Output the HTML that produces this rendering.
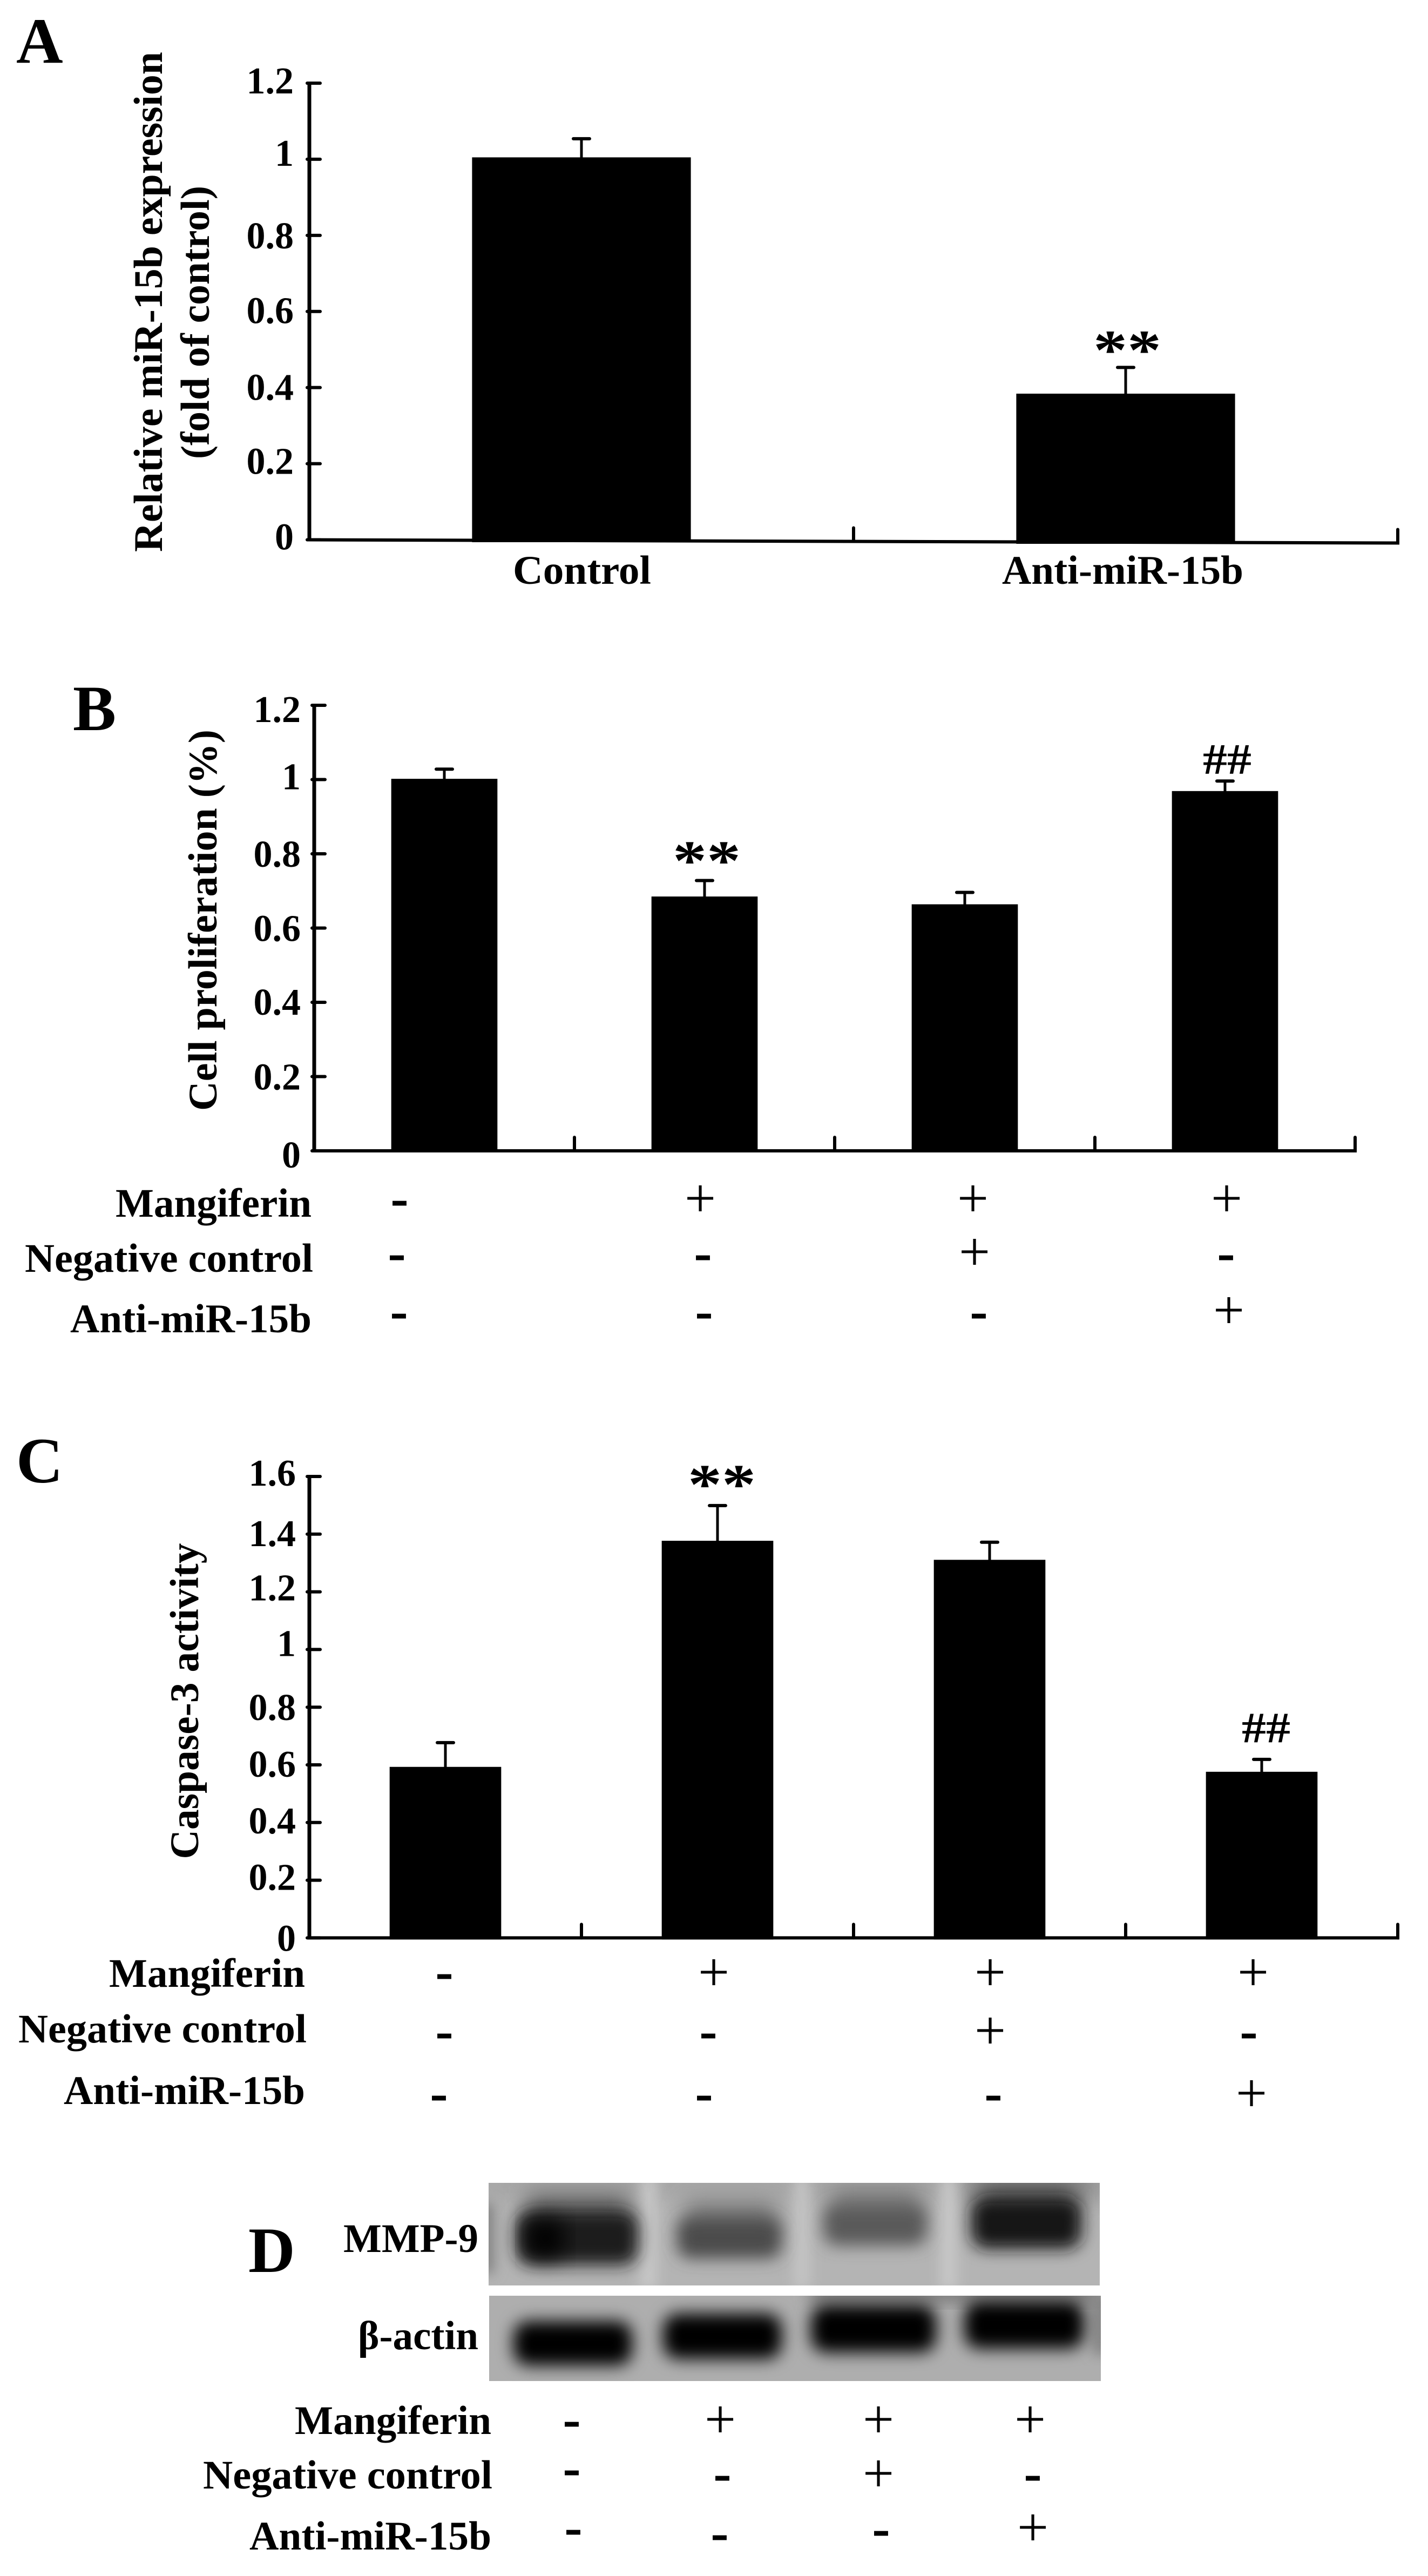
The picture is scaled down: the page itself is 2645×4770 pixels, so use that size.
<!DOCTYPE html>
<html lang="en">
<head>
<meta charset="utf-8">
<title>miR-15b mangiferin figure panels</title>
<style>
html,body{margin:0;padding:0;background:#fff;}
#figure{position:absolute;left:0;top:0;display:block;background:#fff;}
text{font-family:"Liberation Serif","DejaVu Serif",serif;fill:#000;}
.letter{font-weight:700;font-size:120px;}
.row{font-weight:700;font-size:75px;text-anchor:end;}
.title{font-weight:700;font-size:75px;text-anchor:middle;}
.plus{font-size:103px;text-anchor:middle;}
.minus{font-size:92px;text-anchor:middle;stroke:#000;stroke-width:2px;}
</style>
</head>
<body>
<svg id="figure" xmlns="http://www.w3.org/2000/svg" width="2645" height="4770" viewBox="0 0 2645 4770">
  <defs>
    <filter id="blur-band" x="-30%" y="-60%" width="160%" height="220%"><feGaussianBlur stdDeviation="15"/></filter>
    <filter id="blur-smear" x="-30%" y="-80%" width="160%" height="260%"><feGaussianBlur stdDeviation="20"/></filter>
    <filter id="blur-gap" x="-200%" y="-20%" width="500%" height="140%"><feGaussianBlur stdDeviation="12"/></filter>
    <clipPath id="clip-mmp"><rect x="905" y="4042" width="1132" height="190"/></clipPath>
    <clipPath id="clip-actin"><rect x="906" y="4251" width="1133" height="158"/></clipPath>
  </defs>

  <g id="plots"></g>

  <!-- panel letters -->
  <text class="letter" x="30" y="116">A</text>
  <text class="letter" x="135" y="1352">B</text>
  <text class="letter" x="30" y="2745">C</text>
  <text class="letter" x="460" y="4207">D</text>

  <!-- axis titles -->
  <text class="title" transform="translate(300,559) rotate(-90)" textLength="926" lengthAdjust="spacingAndGlyphs">Relative miR-15b expression</text>
  <text class="title" transform="translate(387,597) rotate(-90)" textLength="506" lengthAdjust="spacingAndGlyphs">(fold of control)</text>
  <text class="title" transform="translate(401,1704) rotate(-90)" textLength="706" lengthAdjust="spacingAndGlyphs">Cell proliferation (%)</text>
  <text class="title" transform="translate(367,3150) rotate(-90)" textLength="585" lengthAdjust="spacingAndGlyphs">Caspase-3 activity</text>

  <!-- panel A category labels -->
  <text class="row" x="1206" y="1081" textLength="256" lengthAdjust="spacingAndGlyphs">Control</text>
  <text class="row" x="2303" y="1081" textLength="447" lengthAdjust="spacingAndGlyphs">Anti-miR-15b</text>

  <!-- panel B treatment table -->
  <g>
    <text class="row" x="577" y="2253" textLength="363" lengthAdjust="spacingAndGlyphs">Mangiferin</text>
    <text class="row" x="580" y="2355" textLength="534" lengthAdjust="spacingAndGlyphs">Negative control</text>
    <text class="row" x="577" y="2467" textLength="447" lengthAdjust="spacingAndGlyphs">Anti-miR-15b</text>
    <text class="minus" x="740" y="2250">-</text>
    <text class="plus" x="1297" y="2253">+</text>
    <text class="plus" x="1802" y="2253">+</text>
    <text class="plus" x="2272" y="2253">+</text>
    <text class="minus" x="735" y="2351">-</text>
    <text class="minus" x="1302" y="2351">-</text>
    <text class="plus" x="1805" y="2352">+</text>
    <text class="minus" x="2271" y="2351">-</text>
    <text class="minus" x="739" y="2459">-</text>
    <text class="minus" x="1304" y="2459">-</text>
    <text class="minus" x="1813" y="2459">-</text>
    <text class="plus" x="2276" y="2460">+</text>
  </g>

  <!-- panel C treatment table -->
  <g>
    <text class="row" x="565" y="3679" textLength="363" lengthAdjust="spacingAndGlyphs">Mangiferin</text>
    <text class="row" x="568" y="3782" textLength="534" lengthAdjust="spacingAndGlyphs">Negative control</text>
    <text class="row" x="565" y="3896" textLength="447" lengthAdjust="spacingAndGlyphs">Anti-miR-15b</text>
    <text class="minus" x="823" y="3682">-</text>
    <text class="plus" x="1322" y="3686">+</text>
    <text class="plus" x="1834" y="3686">+</text>
    <text class="plus" x="2321" y="3686">+</text>
    <text class="minus" x="823" y="3792">-</text>
    <text class="minus" x="1312" y="3792">-</text>
    <text class="plus" x="1834" y="3794">+</text>
    <text class="minus" x="2313" y="3792">-</text>
    <text class="minus" x="813" y="3907">-</text>
    <text class="minus" x="1304" y="3907">-</text>
    <text class="minus" x="1840" y="3907">-</text>
    <text class="plus" x="2318" y="3910">+</text>
  </g>

  <!-- panel D western blot -->
  <g clip-path="url(#clip-mmp)">
    <rect x="905" y="4042" width="1132" height="190" fill="#b4b4b4"/>
    <rect x="880" y="4020" width="1180" height="50" fill="#a4a4a4" filter="url(#blur-smear)"/>
    <rect x="1790" y="4020" width="240" height="50" fill="#888" filter="url(#blur-smear)"/>
    <rect x="880" y="4080" width="36" height="130" fill="#858585" filter="url(#blur-gap)"/>
    <rect x="1186" y="4030" width="30" height="210" fill="#c8c8c8" filter="url(#blur-gap)"/>
    <rect x="1470" y="4030" width="30" height="210" fill="#c4c4c4" filter="url(#blur-gap)"/>
    <rect x="1742" y="4030" width="30" height="210" fill="#c8c8c8" filter="url(#blur-gap)"/>
    <rect x="975" y="4060" width="190" height="70" fill="#6c6c6c" filter="url(#blur-smear)"/>
    <rect x="1268" y="4075" width="170" height="60" fill="#7c7c7c" filter="url(#blur-smear)"/>
    <rect x="1540" y="4050" width="165" height="60" fill="#7e7e7e" filter="url(#blur-smear)"/>
    <rect x="1815" y="4040" width="175" height="60" fill="#5e5e5e" filter="url(#blur-smear)"/>
    <rect x="956" y="4094" width="226" height="100" rx="30" fill="#1a1a1a" filter="url(#blur-band)"/>
    <rect x="975" y="4110" width="70" height="70" rx="25" fill="#000" filter="url(#blur-smear)"/>
    <rect x="1254" y="4106" width="194" height="76" rx="25" fill="#4c4c4c" filter="url(#blur-band)"/>
    <rect x="1525" y="4082" width="192" height="76" rx="25" fill="#5a5a5a" filter="url(#blur-band)"/>
    <rect x="1799" y="4070" width="204" height="94" rx="28" fill="#151515" filter="url(#blur-band)"/>
  </g>
  <g clip-path="url(#clip-actin)">
    <rect x="906" y="4251" width="1133" height="158" fill="#aeaeae"/>
    <rect x="1500" y="4235" width="540" height="26" fill="#707070" filter="url(#blur-band)"/>
    <rect x="2026" y="4250" width="24" height="110" fill="#7c7c7c" filter="url(#blur-gap)"/>
    <rect x="951" y="4298" width="220" height="82" rx="28" fill="#000" filter="url(#blur-band)"/>
    <rect x="1228" y="4284" width="220" height="84" rx="28" fill="#000" filter="url(#blur-band)"/>
    <rect x="1502" y="4268" width="232" height="88" rx="28" fill="#000" filter="url(#blur-band)"/>
    <rect x="1786" y="4261" width="222" height="88" rx="28" fill="#000" filter="url(#blur-band)"/>
  </g>
  <text class="row" x="886" y="4170" textLength="250" lengthAdjust="spacingAndGlyphs">MMP-9</text>
  <text class="row" x="886" y="4350" textLength="223" lengthAdjust="spacingAndGlyphs">β-actin</text>

  <g>
    <text class="row" x="910" y="4507" textLength="364" lengthAdjust="spacingAndGlyphs">Mangiferin</text>
    <text class="row" x="912" y="4608" textLength="536" lengthAdjust="spacingAndGlyphs">Negative control</text>
    <text class="row" x="910" y="4721" textLength="448" lengthAdjust="spacingAndGlyphs">Anti-miR-15b</text>
    <text class="minus" x="1059" y="4511">-</text>
    <text class="plus" x="1334" y="4514">+</text>
    <text class="plus" x="1627" y="4514">+</text>
    <text class="plus" x="1908" y="4514">+</text>
    <text class="minus" x="1059" y="4601">-</text>
    <text class="minus" x="1338" y="4611">-</text>
    <text class="plus" x="1627" y="4614">+</text>
    <text class="minus" x="1913" y="4611">-</text>
    <text class="minus" x="1062" y="4711">-</text>
    <text class="minus" x="1333" y="4721">-</text>
    <text class="minus" x="1632" y="4713">-</text>
    <text class="plus" x="1913" y="4714">+</text>
  </g>
</svg>

<script>
/* Panel A data */
const panelACategories = ['Control', 'Anti-miR-15b'];
const panelAValues = [1.005, 0.384];
const panelAErrors = [0.049, 0.069];
const panelASignificance = ['', '**'];
const panelATickValues = [0, 0.2, 0.4, 0.6, 0.8, 1, 1.2];
const panelATickLabels = ['0', '0.2', '0.4', '0.6', '0.8', '1', '1.2'];

/* Panel B data */
const panelBCategories = ['Untreated', 'Mangiferin', 'Mangiferin + negative control', 'Mangiferin + anti-miR-15b'];
const panelBValues = [1.002, 0.685, 0.664, 0.969];
const panelBErrors = [0.026, 0.043, 0.032, 0.027];
const panelBSignificance = ['', '**', '', '##'];
const panelBTickValues = [0, 0.2, 0.4, 0.6, 0.8, 1, 1.2];
const panelBTickLabels = ['0', '0.2', '0.4', '0.6', '0.8', '1', '1.2'];

/* Panel C data */
const panelCCategories = ['Untreated', 'Mangiferin', 'Mangiferin + negative control', 'Mangiferin + anti-miR-15b'];
const panelCValues = [0.593, 1.377, 1.311, 0.576];
const panelCErrors = [0.084, 0.122, 0.061, 0.043];
const panelCSignificance = ['', '**', '', '##'];
const panelCTickValues = [0, 0.2, 0.4, 0.6, 0.8, 1, 1.2, 1.4, 1.6];
const panelCTickLabels = ['0', '0.2', '0.4', '0.6', '0.8', '1', '1.2', '1.4', '1.6'];

const SVG_NS = 'http://www.w3.org/2000/svg';
const plots = document.getElementById('plots');

function add(tag, attrs, parent) {
  const node = document.createElementNS(SVG_NS, tag);
  for (const key in attrs) node.setAttribute(key, attrs[key]);
  parent.appendChild(node);
  return node;
}

function drawPanel(p) {
  const group = add('g', {}, plots);
  
  

  const yScale = function (v) { return p.zeroY - v * p.unit; };
  const bandWidth = (p.x1 - p.x0) / p.categories.length;
  const xCenter = function (i) { return p.x0 + (i + 0.5) * bandWidth; };
  const axisDrop = function (x) { return p.tilt * (x - p.x0) / (p.x1 - p.x0); };
  const maxTick = p.tickValues[p.tickValues.length - 1];

  /* bars and error bars */
  p.values.forEach(function (value, i) {
    const cx = xCenter(i);
    const w = bandWidth * p.barRatio;
    const top = yScale(value);
    const errTop = yScale(value + p.errors[i]);

    const stem = add('line', { x1: cx, x2: cx, y1: top + 2, y2: errTop, stroke: '#000', 'stroke-width': 5 }, group);
    
    

    const cap = add('line', { x1: cx - 15, x2: cx + 15, y1: errTop, y2: errTop, stroke: '#000', 'stroke-width': 6, 'stroke-linecap': 'round' }, group);
    
    

    const bar = add('rect', { x: cx - w / 2, y: top, width: w, height: p.zeroY + axisDrop(cx) + 3 - top, fill: '#000' }, group);
    
    

    const mark = p.significance[i];
    if (mark) {
      const isStar = mark.charAt(0) === '*';
      const gap = isStar ? p.starGap : p.hashGap;
      const size = isStar ? 105 : 80;
      const length = isStar ? 126 : 90;
      const base = isStar ? errTop - gap + 0.255 * size : errTop - gap;
      const sig = add('text', { x: cx + p.sigShift, y: base, 'text-anchor': 'middle', 'font-weight': 700, 'font-size': size, textLength: length, lengthAdjust: 'spacingAndGlyphs' }, group);
      
      
      sig.textContent = mark;
    }
  });

  /* y axis */
  const yAxis = add('line', { x1: p.x0, x2: p.x0, y1: yScale(maxTick) - 3, y2: p.zeroY + 3, stroke: '#000', 'stroke-width': 7 }, group);
  
  

  p.tickValues.forEach(function (v, i) {
    const y = yScale(v);
    const tick = add('line', { x1: p.x0 - 4, x2: p.x0 + 20, y1: y, y2: y, stroke: '#000', 'stroke-width': 6, 'stroke-linecap': 'round' }, group);
    
    

    const label = add('text', { x: p.labelRight, y: y + p.labelDrops[i], 'text-anchor': 'end', 'font-weight': 700, 'font-size': 70 }, group);
    
    
    label.textContent = p.tickLabels[i];
  });

  /* x axis */
  const xAxis = add('line', { x1: p.x0 - 3, x2: p.x1 + 3, y1: p.zeroY, y2: p.zeroY + p.tilt, stroke: '#000', 'stroke-width': 6 }, group);
  
  

  p.categories.forEach(function (c, i) {
    const x = p.x0 + (i + 1) * bandWidth;
    const base = p.zeroY + axisDrop(x);
    const tick = add('line', { x1: x, x2: x, y1: base, y2: base - 25, stroke: '#000', 'stroke-width': 6, 'stroke-linecap': 'round' }, group);
    
    
  });
}

drawPanel({
  id: 'panel-a', categories: panelACategories, values: panelAValues, errors: panelAErrors,
  significance: panelASignificance, tickValues: panelATickValues, tickLabels: panelATickLabels,
  x0: 573, x1: 2589, zeroY: 999.5, unit: 704.6, tilt: 6, barRatio: 0.402,
  labelRight: 544, labelDrops: [18, 19, 23, 22, 24, 12, 19], starGap: 24, hashGap: 24, sigShift: 3
});
drawPanel({
  id: 'panel-b', categories: panelBCategories, values: panelBValues, errors: panelBErrors,
  significance: panelBSignificance, tickValues: panelBTickValues, tickLabels: panelBTickLabels,
  x0: 582, x1: 2510, zeroY: 2131, unit: 687.5, tilt: 0, barRatio: 0.408,
  labelRight: 557, labelDrops: [31, 24, 23, 24, 24, 18, 31], starGap: 29, hashGap: 14, sigShift: 4
});
drawPanel({
  id: 'panel-c', categories: panelCCategories, values: panelCValues, errors: panelCErrors,
  significance: panelCSignificance, tickValues: panelCTickValues, tickLabels: panelCTickLabels,
  x0: 573, x1: 2589, zeroY: 3588.4, unit: 534, tilt: 0, barRatio: 0.41,
  labelRight: 548, labelDrops: [24, 18, 20, 22, 24, 12, 16, 22, 17], starGap: 31, hashGap: 32, sigShift: 8
});
</script>
</body>
</html>
